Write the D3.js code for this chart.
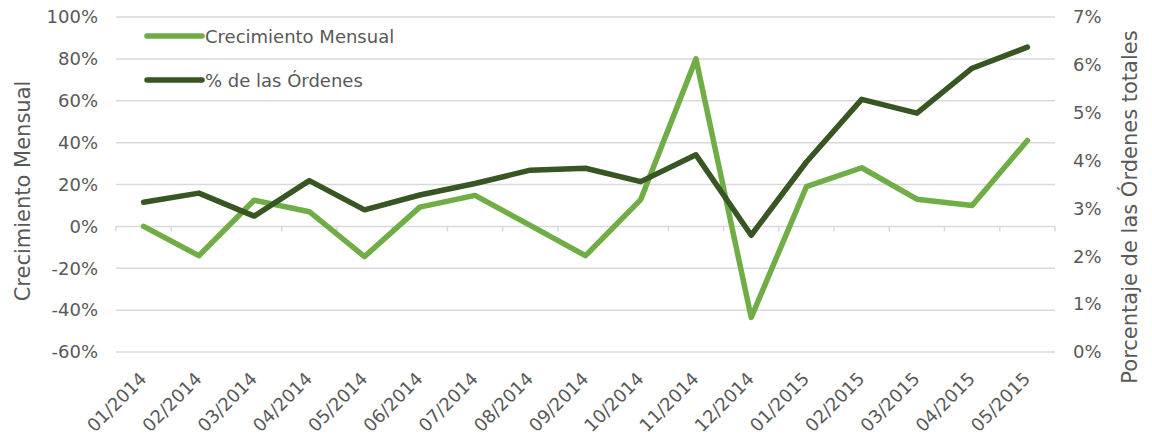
<!DOCTYPE html>
<html>
<head>
<meta charset="utf-8">
<script src="https://cdn.jsdelivr.net/npm/d3@7"></script>
<style>
  body { margin: 0; background: #fff; }
  text { font-family: "DejaVu Sans", Verdana, sans-serif; fill: #595959; }
</style>
</head>
<body>
<div id="chart"></div>
<script>
// Data
const months = ["01/2014", "02/2014", "03/2014", "04/2014", "05/2014", "06/2014", "07/2014", "08/2014",
  "09/2014", "10/2014", "11/2014", "12/2014", "01/2015", "02/2015", "03/2015", "04/2015", "05/2015"];
// monthly growth, left axis (fraction)
const crecimiento = [0.0, -0.14, 0.125, 0.07, -0.144, 0.092, 0.148, 0.005, -0.14, 0.128, 0.80, -0.435,
  0.19, 0.28, 0.13, 0.10, 0.41];
// share of total orders, right axis (fraction)
const ordenes = [0.0313, 0.0332, 0.0284, 0.0358, 0.0297, 0.0328, 0.0352, 0.0380, 0.0384, 0.0356, 0.0412,
  0.0244, 0.0397, 0.0528, 0.0499, 0.0593, 0.0637];
const leftTicks = [-0.6, -0.4, -0.2, 0, 0.2, 0.4, 0.6, 0.8, 1.0];
const rightTicks = [0, 0.01, 0.02, 0.03, 0.04, 0.05, 0.06, 0.07];
const seriesNames = ["Crecimiento Mensual", "% de las Órdenes"];

const w = 1152;
const h = 441;
const plot = { left: 116, right: 1055, top: 17, bottom: 352 };
const green = "#70ad47";
const darkGreen = "#375623";
const gridColor = "#d9d9d9";

const svg = d3.select("#chart").append("svg")
  .attr("width", w)
  .attr("height", h);

const xScale = d3.scaleBand()
  .domain(months)
  .range([plot.left, plot.right]);

const yLeft = d3.scaleLinear()
  .domain([-0.6, 1.0])
  .range([plot.bottom, plot.top]);

const yRight = d3.scaleLinear()
  .domain([0, 0.07])
  .range([plot.bottom, plot.top]);

// plain hyphen for negatives, like the original
const pct = d => Math.round(d * 100) + "%";

// gridlines
svg.append("g")
  .selectAll("line")
  .data(leftTicks.filter(t => t !== 0))
  .enter()
  .append("line")
  .attr("x1", plot.left)
  .attr("x2", plot.right)
  .attr("y1", d => yLeft(d))
  .attr("y2", d => yLeft(d))
  .attr("stroke", gridColor)
  .attr("stroke-width", 1.5);

// left axis labels
const leftAxis = d3.axisLeft(yLeft).tickValues(leftTicks).tickFormat(pct).tickSize(0).tickPadding(18);
svg.append("g")
  .attr("transform", `translate(${plot.left},0)`)
  .call(leftAxis)
  .call(g => g.select(".domain").remove())
  .call(g => g.selectAll("text").attr("font-size", 18).attr("fill", "#595959")
    .style("font-family", "'DejaVu Sans', Verdana, sans-serif"));

// right axis labels
const rightAxis = d3.axisRight(yRight).tickValues(rightTicks).tickFormat(pct).tickSize(0).tickPadding(18);
svg.append("g")
  .attr("transform", `translate(${plot.right},0)`)
  .call(rightAxis)
  .call(g => g.select(".domain").remove())
  .call(g => g.selectAll("text").attr("font-size", 18).attr("fill", "#595959")
    .style("font-family", "'DejaVu Sans', Verdana, sans-serif"));

// category axis sitting on the 0% line, ticks between categories
const zeroY = yLeft(0);
svg.append("line")
  .attr("x1", plot.left)
  .attr("x2", plot.right)
  .attr("y1", zeroY)
  .attr("y2", zeroY)
  .attr("stroke", gridColor)
  .attr("stroke-width", 1.5);

const boundaries = months.map(m => xScale(m)).concat([plot.right]);
svg.append("g")
  .selectAll("line")
  .data(boundaries)
  .enter()
  .append("line")
  .attr("x1", d => d)
  .attr("x2", d => d)
  .attr("y1", zeroY)
  .attr("y2", zeroY + 5)
  .attr("stroke", gridColor)
  .attr("stroke-width", 1.5);

// category labels at the bottom, rotated
svg.append("g")
  .selectAll("text")
  .data(months)
  .enter()
  .append("text")
  .attr("transform", d => `translate(${xScale(d) + xScale.bandwidth() / 2 + 4},380) rotate(-45)`)
  .attr("text-anchor", "end")
  .attr("font-size", 18)
  .text(d => d);

// lines
const xMid = (d, i) => xScale(months[i]) + xScale.bandwidth() / 2;

const lineLeft = d3.line()
  .x(xMid)
  .y(d => yLeft(d));

const lineRight = d3.line()
  .x(xMid)
  .y(d => yRight(d));

svg.append("path")
  .datum(crecimiento)
  .attr("d", lineLeft)
  .attr("fill", "none")
  .attr("stroke", green)
  .attr("stroke-width", 5.5)
  .attr("stroke-linejoin", "round")
  .attr("stroke-linecap", "round");

svg.append("path")
  .datum(ordenes)
  .attr("d", lineRight)
  .attr("fill", "none")
  .attr("stroke", darkGreen)
  .attr("stroke-width", 5.5)
  .attr("stroke-linejoin", "round")
  .attr("stroke-linecap", "round");

// legend
const legend = svg.append("g")
  .selectAll("g")
  .data(seriesNames)
  .enter()
  .append("g")
  .attr("transform", (d, i) => `translate(147,${36 + i * 44})`);

legend.append("line")
  .attr("x1", 0)
  .attr("x2", 55)
  .attr("stroke", (d, i) => i === 0 ? green : darkGreen)
  .attr("stroke-width", 5.5)
  .attr("stroke-linecap", "round");

legend.append("text")
  .attr("x", 58)
  .attr("y", 7)
  .attr("font-size", 18)
  .text(d => d);

// axis titles
svg.append("text")
  .attr("transform", "translate(30,191) rotate(-90)")
  .attr("text-anchor", "middle")
  .attr("font-size", 21)
  .text("Crecimiento Mensual");

svg.append("text")
  .attr("transform", "translate(1137,207) rotate(-90)")
  .attr("text-anchor", "middle")
  .attr("font-size", 21)
  .text("Porcentaje de las Órdenes totales");
</script>
</body>
</html>
